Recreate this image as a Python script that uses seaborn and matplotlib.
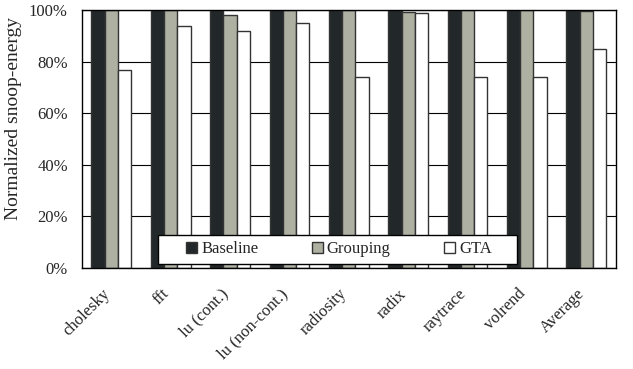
import matplotlib
matplotlib.use("Agg")
import matplotlib.pyplot as plt
import matplotlib.transforms as mtransforms
import seaborn as sns
import pandas as pd
from matplotlib.patches import Rectangle
from matplotlib.ticker import PercentFormatter, FixedLocator

benchmarks = ['cholesky', 'fft', 'lu (cont.)', 'lu (non-cont.)', 'radiosity',
              'radix', 'raytrace', 'volrend', 'Average']
baseline = [100, 100, 100, 100, 100, 100, 100, 100, 100]
grouping = [100, 100, 98, 100, 100, 99.5, 100, 100, 99.7]
gta = [77, 94, 92, 95, 74, 99, 74, 74, 85]

schemes = ['Baseline', 'Grouping', 'GTA']
colors = ['#222829', '#aeb0a2', '#ffffff']

df = pd.DataFrame({'benchmark': benchmarks, 'Baseline': baseline,
                   'Grouping': grouping, 'GTA': gta})
df = df.melt(id_vars='benchmark', var_name='scheme', value_name='energy')

sns.set_style('white')
plt.rcParams['font.family'] = ['Liberation Serif', 'DejaVu Serif']

fig = plt.figure(figsize=(6.33, 3.69), dpi=100)
ax = fig.add_axes([0.129, 0.274, 0.844, 0.698])

ax.yaxis.grid(True, color='black', linewidth=0.8)
ax.set_axisbelow(True)

sns.barplot(data=df, x='benchmark', y='energy', hue='scheme', hue_order=schemes,
            palette=colors, width=0.67, gap=0, edgecolor='#333333',
            linewidth=1.0, saturation=1, ax=ax)

ax.set_ylim(0, 100)
ax.set_xlim(-0.5, len(benchmarks) - 0.5)
ax.yaxis.set_major_formatter(PercentFormatter(decimals=0))
ax.set_yticks([0, 20, 40, 60, 80, 100])
ax.tick_params(axis='y', length=0, labelsize=12, pad=10)
ax.tick_params(axis='x', which='major', length=0, labelsize=12, pad=17)
ax.xaxis.set_minor_locator(FixedLocator([i + 0.5 for i in range(len(benchmarks) - 1)]))
ax.tick_params(axis='x', which='minor', direction='in', length=4, width=0.8, color='black')
shift = mtransforms.ScaledTranslation(-4 / 100, 0, fig.dpi_scale_trans)
for lab in ax.get_xticklabels():
    lab.set_rotation(45)
    lab.set_ha('right')
    lab.set_va('center')
    lab.set_rotation_mode('anchor')
    lab.set_transform(lab.get_transform() + shift)

for s in ax.spines.values():
    s.set_color('black')
    s.set_linewidth(1.0)

ax.set_xlabel('')
ax.set_ylabel('Normalized snoop-energy', fontsize=14)
ax.yaxis.set_label_coords(-0.112, 0.58)

# legend box
ax.add_patch(Rectangle((0.1428, 0.0155), 0.6719, 0.1124, transform=ax.transAxes,
                       facecolor='white', edgecolor='black', linewidth=1.0,
                       zorder=4.5, clip_on=False))
leg = ax.legend(loc='center', bbox_to_anchor=(0.4816, 0.0717), ncol=3, frameon=False,
                fontsize=12, handlelength=0.65, handleheight=0.65, handletextpad=0.25,
                columnspacing=3.2, borderpad=0, borderaxespad=0)
leg.set_zorder(5)

fig.savefig('out.png', dpi=100)
